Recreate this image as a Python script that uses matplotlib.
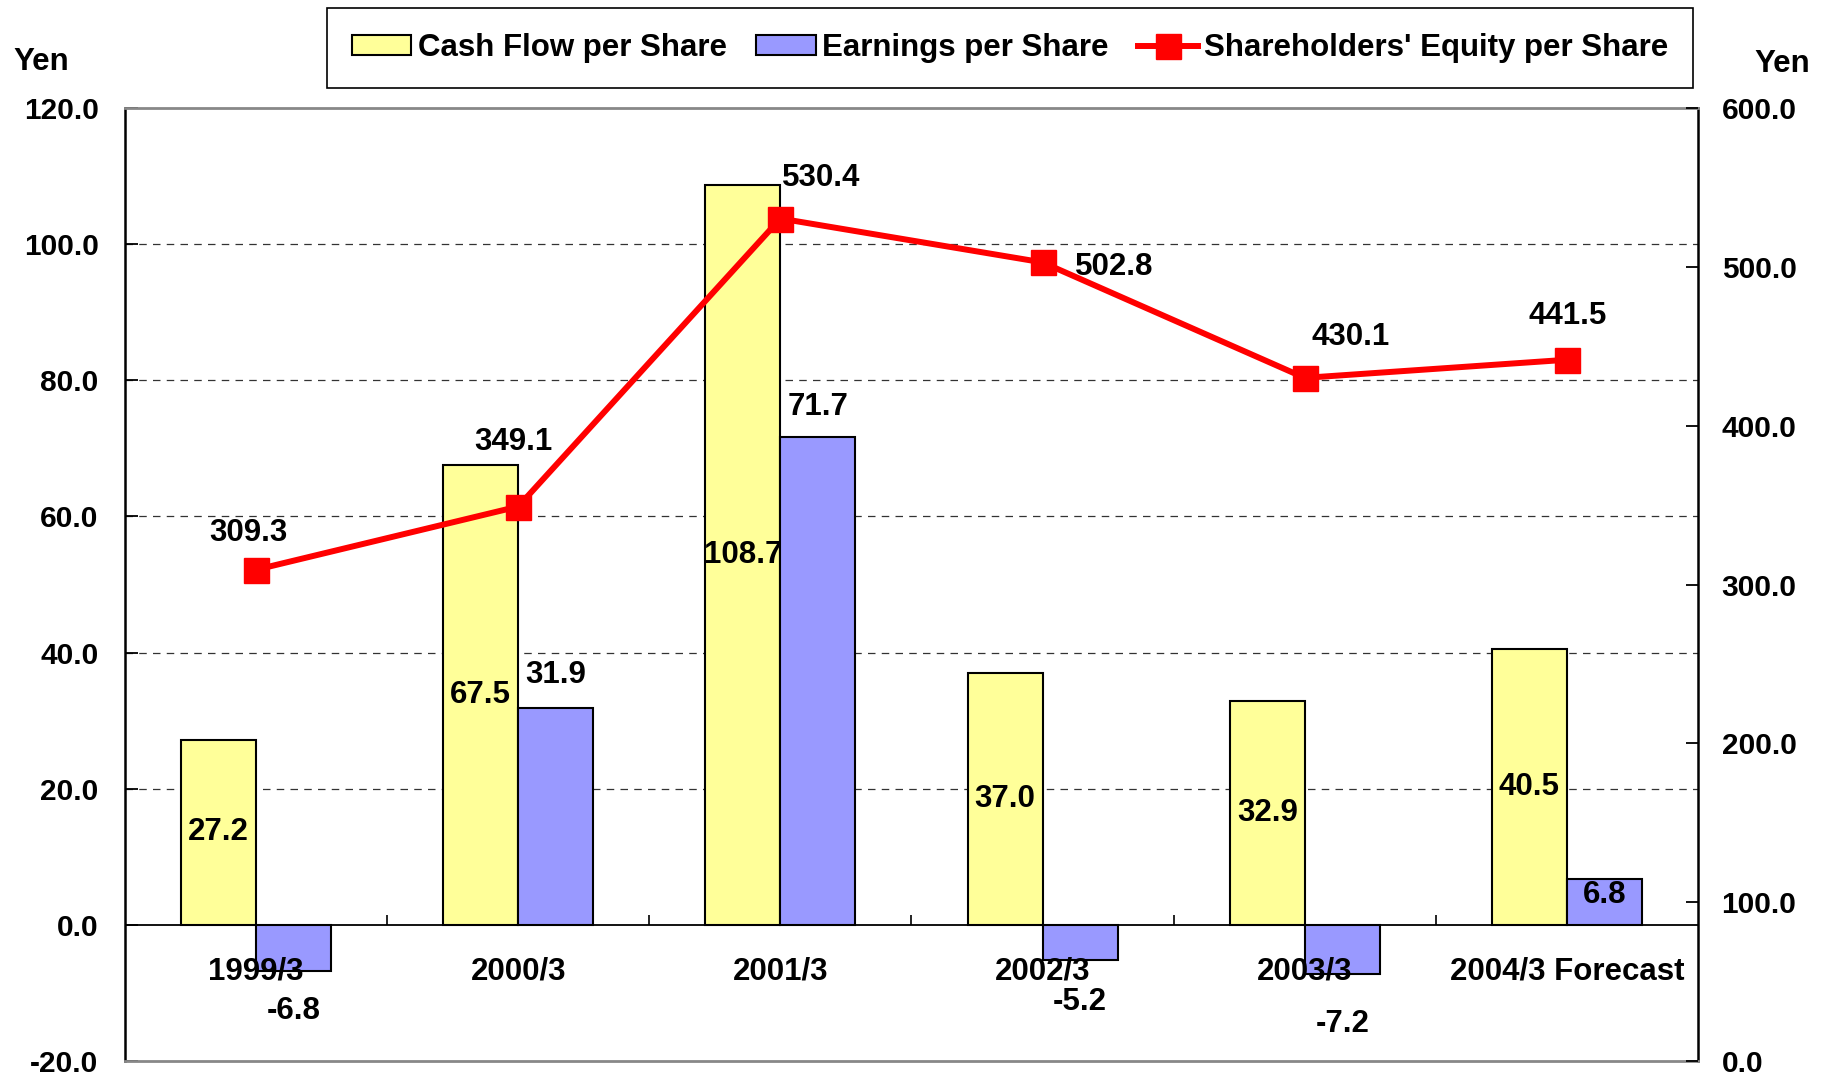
import numpy as np
import matplotlib
matplotlib.use("Agg")
import matplotlib.pyplot as plt
from matplotlib.lines import Line2D
from matplotlib.patches import Patch

plt.rcParams['font.family'] = ['Liberation Sans', 'DejaVu Sans']
plt.rcParams['font.weight'] = 'bold'

periodos = ["1999/3", "2000/3", "2001/3", "2002/3", "2003/3", "2004/3 Forecast"]
flujo_caja = [27.2, 67.5, 108.7, 37.0, 32.9, 40.5]
ganancias = [-6.8, 31.9, 71.7, -5.2, -7.2, 6.8]
patrimonio = [309.3, 349.1, 530.4, 502.8, 430.1, 441.5]

# desplazamientos de las etiquetas, en pixeles
dy_ganancias = [-40, 33, 30, -42, -50, -16]
dxy_patrimonio = [(-8, 37), (-5, 65), (41, 41), (72, -5), (46, 41), (1, 44)]

AMARILLO = "#FFFF99"
AZUL = "#9999FF"
ROJO = "#FF0000"
FS = 22.5      # etiquetas
FS_TICK = 21.5
PX = 0.72  # puntos por pixel a 100 dpi

fig = plt.figure(figsize=(18.29, 10.75), dpi=100)
ax = fig.add_axes([125 / 1829, 1 - 1061 / 1075, (1698 - 125) / 1829, (1061 - 108) / 1075])
ax2 = ax.twinx()

x = np.arange(len(periodos))
ancho = 0.286

ax.bar(x - ancho / 2, flujo_caja, ancho, color=AMARILLO, edgecolor="black", linewidth=1.5, zorder=3)
ax.bar(x + ancho / 2, ganancias, ancho, color=AZUL, edgecolor="black", linewidth=1.5, zorder=3)

ax.set_xlim(-0.5, len(periodos) - 0.5)
ax.set_ylim(-20, 120)
ax.set_yticks(np.arange(-20, 121, 20))
ax.set_yticklabels(["%.1f" % v for v in np.arange(-20, 121, 20)])
ax.set_xticks([])
for v in range(20, 101, 20):
    ax.axhline(v, color="#333333", linewidth=0.9, linestyle=(0, (6, 5)), zorder=1)
ax.axhline(0, color="black", linewidth=1.3, zorder=4)
# marcas de separacion entre categorias sobre el eje cero
ax.vlines(np.arange(0.5, len(periodos) - 0.5, 1), 0, 1.5, color="black", linewidth=1.2, zorder=4)

for lado in ["left", "right"]:
    ax.spines[lado].set_color("black")
    ax.spines[lado].set_linewidth(1.8)
for lado in ["top", "bottom"]:
    ax.spines[lado].set_color("#888888")
    ax.spines[lado].set_linewidth(2)
ax.tick_params(axis="y", direction="in", length=9, width=1.3, labelsize=FS_TICK, pad=19)

ax2.plot(x, patrimonio, color=ROJO, linewidth=4.3, marker="s", markersize=18, zorder=5)
ax2.set_ylim(0, 600)
ax2.set_yticks(np.arange(0, 601, 100))
ax2.set_yticklabels(["%.1f" % v for v in np.arange(0, 601, 100)])
ax2.tick_params(axis="y", direction="in", length=9, width=1.3, labelsize=FS_TICK, pad=17)
for lado in ax2.spines:
    ax2.spines[lado].set_visible(False)

# etiquetas de categoria junto al eje cero
for i, p in enumerate(periodos):
    ax.annotate(p, (i, 0), xytext=(0, -47 * PX), textcoords="offset points",
                ha="center", va="center", fontsize=FS, fontweight="bold", zorder=6)

for i, v in enumerate(flujo_caja):
    ax.text(i - ancho / 2, v / 2, "%.1f" % v, ha="center", va="center",
            fontsize=FS, fontweight="bold", zorder=6)

for i, v in enumerate(ganancias):
    ax.annotate("%.1f" % v, (i + ancho / 2, v), xytext=(0, dy_ganancias[i] * PX),
                textcoords="offset points", ha="center", va="center",
                fontsize=FS, fontweight="bold", zorder=6)

for i, v in enumerate(patrimonio):
    dx, dy = dxy_patrimonio[i]
    ax2.annotate("%.1f" % v, (i, v), xytext=(dx * PX, dy * PX),
                 textcoords="offset points", ha="center", va="center",
                 fontsize=FS, fontweight="bold", zorder=6)

fig.text(41 / 1829, 1 - 62 / 1075, "Yen", ha="center", va="center", fontsize=FS, fontweight="bold")
fig.text(1782 / 1829, 1 - 64 / 1075, "Yen", ha="center", va="center", fontsize=FS, fontweight="bold")

manijas = [
    Patch(facecolor=AMARILLO, edgecolor="black", linewidth=1.5),
    Patch(facecolor=AZUL, edgecolor="black", linewidth=1.5),
    Line2D([0], [0], color=ROJO, linewidth=4.3, marker="s", markersize=18),
]
etiquetas = ["Cash Flow per Share", "Earnings per Share", "Shareholders' Equity per Share"]
leg = fig.legend(manijas, etiquetas, loc="upper center", bbox_to_anchor=(1010 / 1829, 1 - 8 / 1075),
                 ncol=3, fontsize=FS, frameon=True, fancybox=False, framealpha=1,
                 edgecolor="black", handlelength=1.9, handleheight=0.6, handletextpad=0.2,
                 columnspacing=0.95, borderpad=0.8, borderaxespad=0)
leg.get_frame().set_linewidth(1.2)

fig.savefig("out.png", dpi=100)
